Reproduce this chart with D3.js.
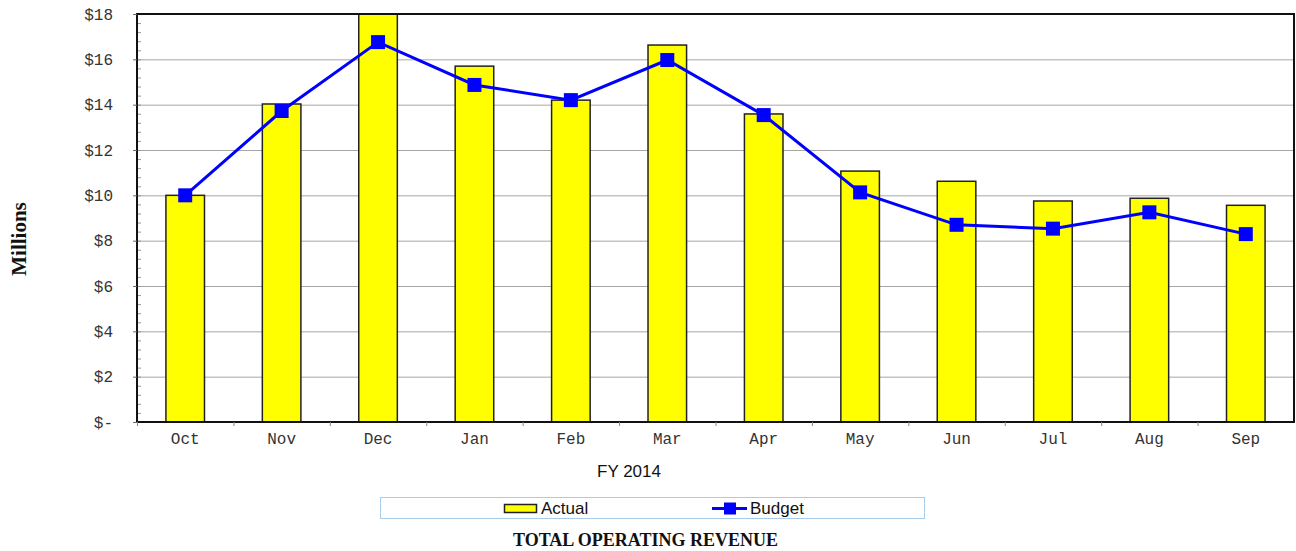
<!DOCTYPE html>
<html>
<head>
<meta charset="utf-8">
<script src="https://cdn.jsdelivr.net/npm/d3@7"></script>
<style>
  body { margin: 0; background: #fff; }
</style>
</head>
<body>
<div id="chart"></div>
<script>
// Monthly revenue, in millions
const months = ['Oct', 'Nov', 'Dec', 'Jan', 'Feb', 'Mar', 'Apr', 'May', 'Jun', 'Jul', 'Aug', 'Sep'];
const actual = [10.0, 14.03, 18.0, 15.7, 14.2, 16.63, 13.59, 11.07, 10.62, 9.75, 9.87, 9.56];
const budget = [10.0, 13.72, 16.76, 14.87, 14.2, 15.97, 13.54, 10.13, 8.7, 8.53, 9.25, 8.29];
const yTicks = [0, 2, 4, 6, 8, 10, 12, 14, 16, 18];

const W = 1296, H = 551;
const margin = {top: 14, right: 2, bottom: 129, left: 137};
const width = W - margin.left - margin.right;
const height = H - margin.top - margin.bottom;

const svg = d3.select("#chart")
    .append("svg")
    .attr("width", W)
    .attr("height", H);

const g = svg.append("g")
    .attr("transform", `translate(${margin.left}, ${margin.top})`);

const x = d3.scaleBand()
    .domain(months)
    .range([0, width])
    .paddingInner(0)
    .paddingOuter(0);
const y = d3.scaleLinear()
    .domain([0, 18])
    .range([height, 0]);

const mono = "'Liberation Mono', 'Courier New', monospace";
const sans = "'Liberation Sans', Arial, sans-serif";
const serif = "'Liberation Serif', 'Times New Roman', serif";

// gridlines
g.selectAll(".grid")
    .data(yTicks.filter(d => d > 0 && d < 18))
    .enter()
    .append("line")
    .attr("x1", 0)
    .attr("x2", width)
    .attr("y1", d => y(d) + 0.5)
    .attr("y2", d => y(d) + 0.5)
    .attr("stroke", "#a6a6a6")
    .attr("stroke-width", 1);

// minor ticks on the inside of the y axis
g.selectAll(".minor")
    .data(d3.range(0, 18.01, 0.4))
    .enter()
    .append("line")
    .attr("x1", 0)
    .attr("x2", 4)
    .attr("y1", d => y(d) + 0.5)
    .attr("y2", d => y(d) + 0.5)
    .attr("stroke", "#999")
    .attr("stroke-width", 1);

// bars
const barW = x.bandwidth() * 0.4;
g.selectAll(".bar")
    .data(actual)
    .enter()
    .append("rect")
    .attr("class", "bar")
    .attr("x", (d, i) => x(months[i]) + (x.bandwidth() - barW) / 2)
    .attr("width", barW)
    .attr("y", d => y(d))
    .attr("height", d => height - y(d))
    .attr("fill", "#ffff00")
    .attr("stroke", "#222")
    .attr("stroke-width", 1.5);

// plot frame
g.append("rect")
    .attr("x", 0)
    .attr("y", 0)
    .attr("width", width)
    .attr("height", height)
    .attr("fill", "none")
    .attr("stroke", "#111")
    .attr("stroke-width", 2);

// budget line
const line = d3.line()
    .x((d, i) => x(months[i]) + x.bandwidth() / 2)
    .y(d => y(d));
g.append("path")
    .datum(budget)
    .attr("d", line)
    .attr("fill", "none")
    .attr("stroke", "#0000ff")
    .attr("stroke-width", 3);
g.selectAll(".marker")
    .data(budget)
    .enter()
    .append("rect")
    .attr("x", (d, i) => x(months[i]) + x.bandwidth() / 2 - 7)
    .attr("y", d => y(d) - 7)
    .attr("width", 14)
    .attr("height", 14)
    .attr("fill", "#0000ff");

// y axis
const yAxis = g.append("g")
    .call(d3.axisLeft(y).tickValues(yTicks).tickSize(4).tickPadding(20)
        .tickFormat(d => d === 0 ? "$-" : "$" + d));
yAxis.select(".domain").remove();
yAxis.selectAll(".tick line").attr("stroke", "#666");
yAxis.selectAll("text")
    .attr("font-family", mono)
    .attr("font-size", 16)
    .attr("fill", "#333");

// x axis: ticks at band boundaries
const xAxis = g.append("g")
    .attr("transform", `translate(0, ${height})`)
    .call(d3.axisBottom(x).tickSize(0).tickPadding(11));
xAxis.select(".domain").remove();
xAxis.selectAll("text")
    .attr("font-family", mono)
    .attr("font-size", 16)
    .attr("fill", "#333");
g.selectAll(".xtick")
    .data(months)
    .enter()
    .append("line")
    .attr("x1", d => x(d) + 0.5)
    .attr("x2", d => x(d) + 0.5)
    .attr("y1", height)
    .attr("y2", height + 4)
    .attr("stroke", "#888");

// axis titles
svg.append("text")
    .attr("x", 629)
    .attr("y", 477)
    .attr("text-anchor", "middle")
    .attr("font-family", sans)
    .attr("font-size", 17)
    .attr("fill", "#111")
    .text("FY 2014");

svg.append("text")
    .attr("transform", "translate(26, 239) rotate(-90)")
    .attr("text-anchor", "middle")
    .attr("font-family", serif)
    .attr("font-weight", "bold")
    .attr("font-size", 21)
    .attr("fill", "#111")
    .text("Millions");

// legend
const legend = svg.append("g");
legend.append("rect")
    .attr("x", 380.5)
    .attr("y", 497.5)
    .attr("width", 544)
    .attr("height", 21)
    .attr("fill", "#fff")
    .attr("stroke", "#a9cbea");
legend.append("rect")
    .attr("x", 504.5)
    .attr("y", 504.5)
    .attr("width", 32)
    .attr("height", 8)
    .attr("fill", "#ffff00")
    .attr("stroke", "#222")
    .attr("stroke-width", 1.5);
legend.append("text")
    .attr("x", 541)
    .attr("y", 514)
    .attr("font-family", sans)
    .attr("font-size", 17)
    .attr("fill", "#111")
    .text("Actual");
legend.append("line")
    .attr("x1", 712)
    .attr("x2", 747)
    .attr("y1", 508.5)
    .attr("y2", 508.5)
    .attr("stroke", "#0000ff")
    .attr("stroke-width", 3);
legend.append("rect")
    .attr("x", 724)
    .attr("y", 502.5)
    .attr("width", 12)
    .attr("height", 12)
    .attr("fill", "#0000ff");
legend.append("text")
    .attr("x", 750)
    .attr("y", 514)
    .attr("font-family", sans)
    .attr("font-size", 17)
    .attr("fill", "#111")
    .text("Budget");

// chart title
svg.append("text")
    .attr("x", 645.5)
    .attr("y", 545.5)
    .attr("text-anchor", "middle")
    .attr("font-family", serif)
    .attr("font-weight", "bold")
    .attr("font-size", 18)
    .attr("fill", "#111")
    .text("TOTAL OPERATING REVENUE");
</script>
</body>
</html>
